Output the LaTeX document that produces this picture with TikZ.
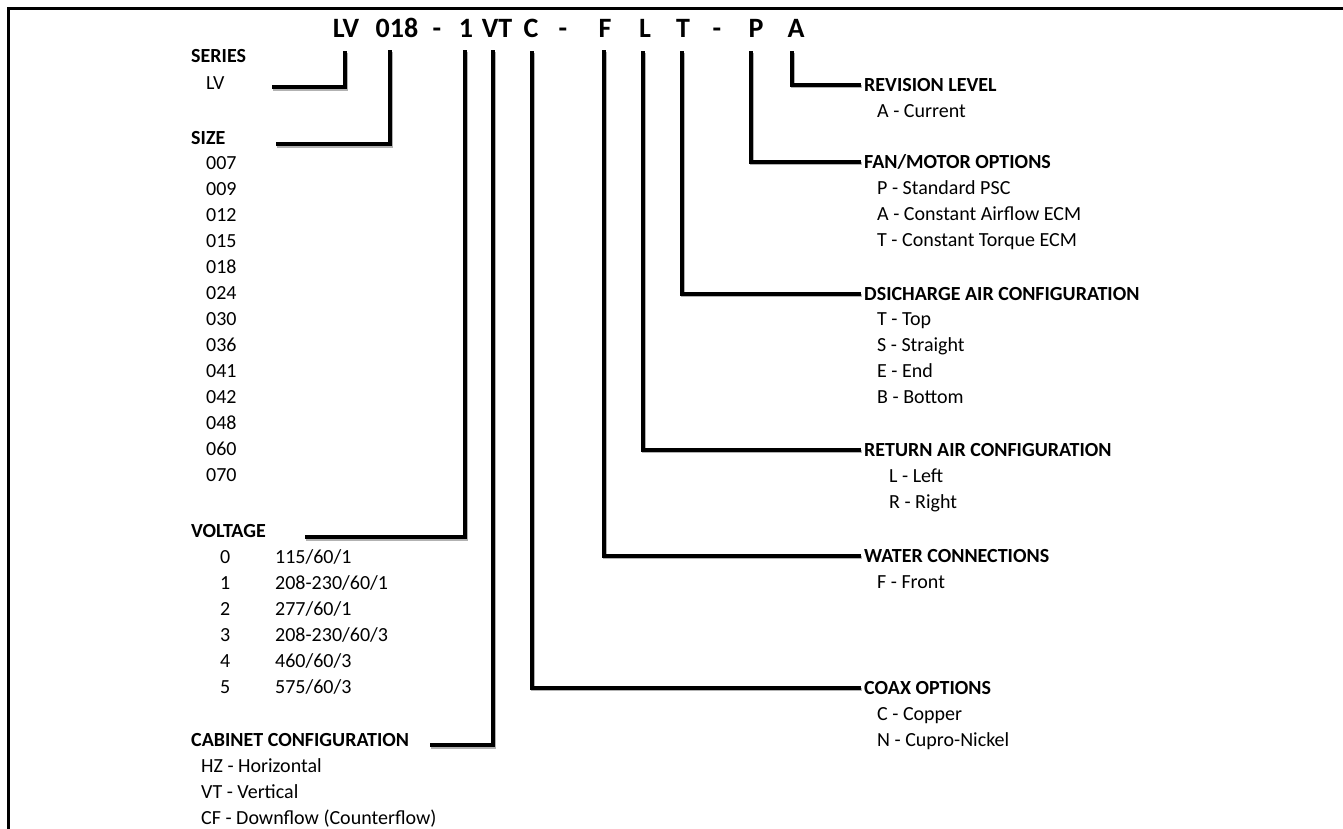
\documentclass[tikz,border=0pt]{standalone}
\usepackage{fontspec}
\setmainfont{Carlito}
\begin{document}
\begin{tikzpicture}[x=1pt,y=-1pt,
  hdr/.style={font=\bfseries\fontsize{20}{20}\selectfont, anchor=mid west, inner sep=0},
  itm/.style={font=\fontsize{20}{20}\selectfont, anchor=mid west, inner sep=0},
  ttl/.style={font=\bfseries\fontsize{28}{28}\selectfont, anchor=base, inner sep=0, text depth=0pt},
  conn/.style={line width=3.5pt, line join=miter, black,
    preaction={draw=black!30, line width=3.5pt, transform canvas={shift={(1.2pt,-1.8pt)}}}},
  frame/.style={line width=3pt, black}]
\useasboundingbox (0,0) rectangle (1343,828);
% frame (top and left only)
\coordinate (f1) at (8.5,830);
\coordinate (f2) at (8.5,8.5);
\coordinate (f3) at (1345,8.5);
\draw[frame] (f1) -- (f2) -- (f3);
% title
\node[ttl] (tLV) at (346,37) {LV};
\node[ttl] (t018) at (397,37) {018};
\node[ttl] (td1) at (437,37) {-};
\node[ttl] (t1) at (466,37) {1};
\node[ttl] (tVT) at (497,37) {VT};
\node[ttl] (tC) at (531,37) {C};
\node[ttl] (td2) at (563,37) {-};
\node[ttl] (tF) at (605,37) {F};
\node[ttl] (tL) at (645,37) {L};
\node[ttl] (tT) at (683,37) {T};
\node[ttl] (td3) at (717,37) {-};
\node[ttl] (tP) at (756,37) {P};
\node[ttl] (tA) at (796,37) {A};
% left labels
\node[hdr] (serH) at (191,60) {SERIES};
\node[itm] (serLV) at (206,87) {LV};
\node[hdr] (sizeH) at (191,142) {SIZE};
\foreach \s [count=\k from 0] in {007,009,012,015,018,024,030,036,041,042,048,060,070}
  \node[itm] (size\k) at (206,167+26*\k) {\s};
\node[hdr] (voltH) at (191,535) {VOLTAGE};
\foreach \d/\v [count=\k from 0] in {0/115\slash 60\slash 1,1/208-230\slash 60\slash 1,2/277\slash 60\slash 1,3/208-230\slash 60\slash 3,4/460\slash 60\slash 3,5/575\slash 60\slash 3}{
  \node[itm] (vd\k) at (220,561+26*\k) {\d};
  \node[itm] (vv\k) at (275,561+26*\k) {\v};
}
\node[hdr] (cabH) at (191,744) {CABINET CONFIGURATION};
\node[itm] (cab0) at (201,770) {HZ - Horizontal};
\node[itm] (cab1) at (201,796) {VT - Vertical};
\node[itm] (cab2) at (201,822) {CF - Downflow (Counterflow)};
% right labels
\node[hdr] (revH) at (864,89) {REVISION LEVEL};
\node[itm] (rev0) at (877,115) {A - Current};
\node[hdr] (fanH) at (864,166) {FAN/MOTOR OPTIONS};
\node[itm] (fan0) at (877,192) {P - Standard PSC};
\node[itm] (fan1) at (877,218) {A - Constant Airflow ECM};
\node[itm] (fan2) at (877,244) {T - Constant Torque ECM};
\node[hdr] (disH) at (864,298) {DSICHARGE AIR CONFIGURATION};
\node[itm] (dis0) at (877,323) {T - Top};
\node[itm] (dis1) at (877,349) {S - Straight};
\node[itm] (dis2) at (877,375) {E - End};
\node[itm] (dis3) at (877,401) {B - Bottom};
\node[hdr] (retH) at (864,454) {RETURN AIR CONFIGURATION};
\node[itm] (ret0) at (889,480) {L - Left};
\node[itm] (ret1) at (889,506) {R - Right};
\node[hdr] (watH) at (864,560) {WATER CONNECTIONS};
\node[itm] (wat0) at (877,586) {F - Front};
\node[hdr] (coaH) at (864,692) {COAX OPTIONS};
\node[itm] (coa0) at (877,718) {C - Copper};
\node[itm] (coa1) at (877,744) {N - Cupro-Nickel};
% free ends on the left
\coordinate (eSer) at (272,87);
\coordinate (eSize) at (276,144);
\coordinate (eVolt) at (305,537);
\coordinate (eCab) at (430,745);
% connectors
\draw[conn, shorten <=14pt] ([xshift=-1pt]tLV.south) |- (eSer);
\draw[conn, shorten <=13pt] ([xshift=-7pt]t018.south) |- (eSize);
\draw[conn, shorten <=13pt] ([xshift=-1pt]t1.south) |- (eVolt);
\draw[conn, shorten <=13pt] ([xshift=-4pt]tVT.south) |- (eCab);
\draw[conn, shorten <=14pt, shorten >=3pt] ([xshift=1pt]tC.south) |- (coaH.west);
\draw[conn, shorten <=13pt, shorten >=3pt] ([xshift=-1pt]tF.south) |- (watH.west);
\draw[conn, shorten <=14pt, shorten >=3pt] ([xshift=-2pt]tL.south) |- (retH.west);
\draw[conn, shorten <=14pt, shorten >=3pt] ([xshift=-1pt]tT.south) |- (disH.west);
\draw[conn, shorten <=14pt, shorten >=3pt] ([xshift=-5pt]tP.south) |- (fanH.west);
\draw[conn, shorten <=14pt, shorten >=3pt] ([xshift=-4pt]tA.south) |- (revH.west);
\end{tikzpicture}
\end{document}
